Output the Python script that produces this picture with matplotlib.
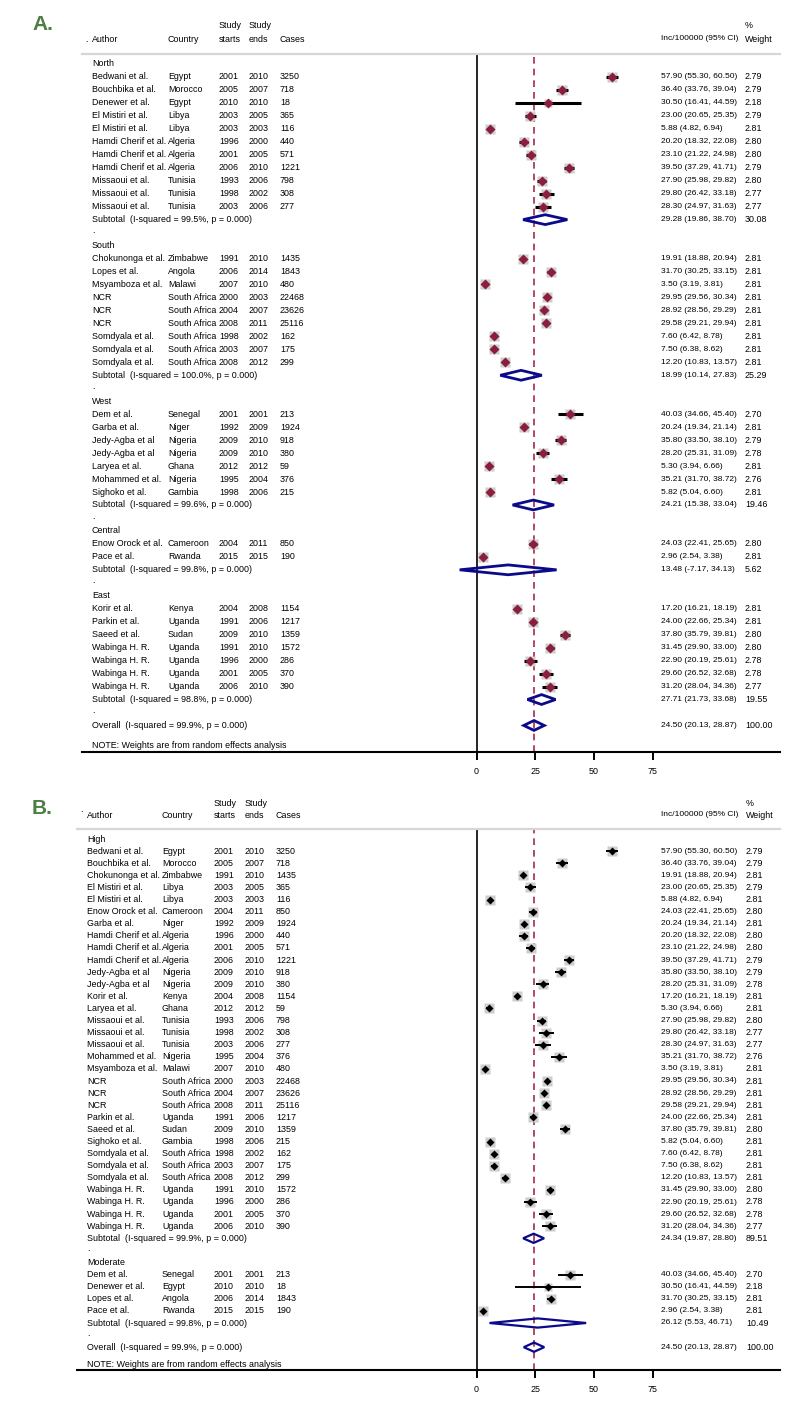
import numpy as np
import matplotlib
matplotlib.use('Agg')
import matplotlib.pyplot as plt
from matplotlib.patches import Polygon
from matplotlib.transforms import blended_transform_factory

plt.rcParams['font.family'] = ['Liberation Sans', 'DejaVu Sans']

# ---- study data (panel A order) ----
authors = ['Bedwani et al.', 'Bouchbika et al.', 'Denewer et al.', 'El Mistiri et al.', 'El Mistiri et al.',
           'Hamdi Cherif et al.', 'Hamdi Cherif et al.', 'Hamdi Cherif et al.', 'Missaoui et al.',
           'Missaoui et al.', 'Missaoui et al.',
           'Chokunonga et al.', 'Lopes et al.', 'Msyamboza et al.', 'NCR', 'NCR', 'NCR',
           'Somdyala et al.', 'Somdyala et al.', 'Somdyala et al.',
           'Dem et al.', 'Garba et al.', 'Jedy-Agba et al', 'Jedy-Agba et al', 'Laryea et al.',
           'Mohammed et al.', 'Sighoko et al.',
           'Enow Orock et al.', 'Pace et al.',
           'Korir et al.', 'Parkin et al.', 'Saeed et al.', 'Wabinga H. R.', 'Wabinga H. R.',
           'Wabinga H. R.', 'Wabinga H. R.']
countries = ['Egypt', 'Morocco', 'Egypt', 'Libya', 'Libya', 'Algeria', 'Algeria', 'Algeria', 'Tunisia',
             'Tunisia', 'Tunisia',
             'Zimbabwe', 'Angola', 'Malawi', 'South Africa', 'South Africa', 'South Africa',
             'South Africa', 'South Africa', 'South Africa',
             'Senegal', 'Niger', 'Nigeria', 'Nigeria', 'Ghana', 'Nigeria', 'Gambia',
             'Cameroon', 'Rwanda',
             'Kenya', 'Uganda', 'Sudan', 'Uganda', 'Uganda', 'Uganda', 'Uganda']
starts = [2001, 2005, 2010, 2003, 2003, 1996, 2001, 2006, 1993, 1998, 2003,
          1991, 2006, 2007, 2000, 2004, 2008, 1998, 2003, 2008,
          2001, 1992, 2009, 2009, 2012, 1995, 1998,
          2004, 2015,
          2004, 1991, 2009, 1991, 1996, 2001, 2006]
ends = [2010, 2007, 2010, 2005, 2003, 2000, 2005, 2010, 2006, 2002, 2006,
        2010, 2014, 2010, 2003, 2007, 2011, 2002, 2007, 2012,
        2001, 2009, 2010, 2010, 2012, 2004, 2006,
        2011, 2015,
        2008, 2006, 2010, 2010, 2000, 2005, 2010]
cases = [3250, 718, 18, 365, 116, 440, 571, 1221, 798, 308, 277,
         1435, 1843, 480, 22468, 23626, 25116, 162, 175, 299,
         213, 1924, 918, 380, 59, 376, 215,
         850, 190,
         1154, 1217, 1359, 1572, 286, 370, 390]
inc = [57.90, 36.40, 30.50, 23.00, 5.88, 20.20, 23.10, 39.50, 27.90, 29.80, 28.30,
       19.91, 31.70, 3.50, 29.95, 28.92, 29.58, 7.60, 7.50, 12.20,
       40.03, 20.24, 35.80, 28.20, 5.30, 35.21, 5.82,
       24.03, 2.96,
       17.20, 24.00, 37.80, 31.45, 22.90, 29.60, 31.20]
ci_lo = [55.30, 33.76, 16.41, 20.65, 4.82, 18.32, 21.22, 37.29, 25.98, 26.42, 24.97,
         18.88, 30.25, 3.19, 29.56, 28.56, 29.21, 6.42, 6.38, 10.83,
         34.66, 19.34, 33.50, 25.31, 3.94, 31.70, 5.04,
         22.41, 2.54,
         16.21, 22.66, 35.79, 29.90, 20.19, 26.52, 28.04]
ci_hi = [60.50, 39.04, 44.59, 25.35, 6.94, 22.08, 24.98, 41.71, 29.82, 33.18, 31.63,
         20.94, 33.15, 3.81, 30.34, 29.29, 29.94, 8.78, 8.62, 13.57,
         45.40, 21.14, 38.10, 31.09, 6.66, 38.72, 6.60,
         25.65, 3.38,
         18.19, 25.34, 39.81, 33.00, 25.61, 32.68, 34.36]
weights = [2.79, 2.79, 2.18, 2.79, 2.81, 2.80, 2.80, 2.79, 2.80, 2.77, 2.77,
           2.81, 2.81, 2.81, 2.81, 2.81, 2.81, 2.81, 2.81, 2.81,
           2.70, 2.81, 2.79, 2.78, 2.81, 2.76, 2.81,
           2.80, 2.81,
           2.81, 2.81, 2.80, 2.80, 2.78, 2.78, 2.77]
region = ['North'] * 11 + ['South'] * 9 + ['West'] * 7 + ['Central'] * 2 + ['East'] * 7
moderate = {'Dem et al.', 'Denewer et al.', 'Lopes et al.', 'Pace et al.'}
level = ['Moderate' if a in moderate else 'High' for a in authors]

# ---- pooled estimates ----
regions = ['North', 'South', 'West', 'Central', 'East']
reg_i2 = ['99.5', '100.0', '99.6', '99.8', '98.8']
reg_est = [29.28, 18.99, 24.21, 13.48, 27.71]
reg_lo = [19.86, 10.14, 15.38, -7.17, 21.73]
reg_hi = [38.70, 27.83, 33.04, 34.13, 33.68]
reg_w = [30.08, 25.29, 19.46, 5.62, 19.55]

levels = ['High', 'Moderate']
lev_i2 = ['99.9', '99.8']
lev_est = [24.34, 26.12]
lev_lo = [19.87, 5.53]
lev_hi = [28.80, 46.71]
lev_w = [89.51, 10.49]

overall = (24.50, 20.13, 28.87, 100.00)

# ---- style ----
W, H = 800, 1408
FS = 6.4       # table text
FS_NUM = 6.0   # estimate column
NAVY = '#0a0a8a'
GREEN = '#4e7d45'
X0_PX, PX_PER_UNIT = 476.5, 2.347

fig = plt.figure(figsize=(8, 14.08), dpi=100)


def fx(px):
    return px / W


def fy(py):
    return 1 - py / H


def build_rows(groups, key, order):
    rows = []
    for g, name in enumerate(groups):
        if g > 0:
            rows.append(('dot', None))
        rows.append(('head', name))
        for k in order:
            if key[k] == name:
                rows.append(('study', k))
        rows.append(('sub', g))
    rows.append(('dot', None))
    rows.append(('overall', None))
    return rows


def draw_panel(letter, rows, stats, lay, diam_color, ci_lw, diam_ms):
    top, bottom, left, right, row0, step = lay['top'], lay['bottom'], lay['left'], lay['right'], lay['row0'], lay['step']
    cols = lay['cols']
    ax = fig.add_axes([fx(left), fy(bottom), (right - left) / W, (bottom - top) / H])
    ax.set_xlim((left - X0_PX) / PX_PER_UNIT, (right - X0_PX) / PX_PER_UNIT)
    ax.set_ylim((bottom - row0) / step, (top - row0) / step)
    for s in ['left', 'right']:
        ax.spines[s].set_visible(False)
    ax.spines['top'].set_color('#d6d6d6')
    ax.spines['top'].set_linewidth(1.6)
    ax.spines['bottom'].set_linewidth(1.5)
    ax.set_yticks([])
    ax.set_xticks([0, 25, 50, 75])
    ax.tick_params(axis='x', direction='out', length=6, width=1.4, pad=5, labelsize=FS)

    ax.axvline(0, color='black', lw=1.2, zorder=1)
    ax.axvline(overall[0], color='#a52a4a', lw=1.2, dashes=(4, 3), zorder=1)

    tr = blended_transform_factory(fig.transFigure, ax.transData)

    def txt(col, y, s):
        size = FS_NUM if col == 'inc' else FS
        ax.text(fx(cols[col]), y, s, transform=tr, va='center', ha='left', fontsize=size, clip_on=False)

    def diamond(y, est, lo, hi):
        h = 0.38
        ax.add_patch(Polygon([[lo, y], [est, y - h], [hi, y], [est, y + h]], closed=True,
                             fill=False, ec=NAVY, lw=lay['sub_lw'], zorder=4))

    names, i2s, ests, los, his, ws = stats
    for i, (kind, v) in enumerate(rows):
        if kind == 'dot':
            txt('author', i - 0.15, '.')
        elif kind == 'head':
            txt('author', i, v)
        elif kind == 'study':
            k = v
            txt('author', i, authors[k])
            txt('country', i, countries[k])
            txt('start', i, str(starts[k]))
            txt('end', i, str(ends[k]))
            txt('cases', i, str(cases[k]))
            txt('inc', i, f'{inc[k]:.2f} ({ci_lo[k]:.2f}, {ci_hi[k]:.2f})')
            txt('weight', i, f'{weights[k]:.2f}')
            ax.plot(inc[k], i, marker='s', ms=6.8 * np.sqrt(weights[k] / 2.81), color='#cdcdcd',
                    mec='none', zorder=2)
            ax.plot([ci_lo[k], ci_hi[k]], [i, i], color='black', lw=ci_lw, solid_capstyle='butt', zorder=3)
            ax.plot(inc[k], i, marker='D', ms=diam_ms, color=diam_color, mec='none', zorder=4)
        elif kind == 'sub':
            g = v
            txt('author', i, f'Subtotal  (I-squared = {i2s[g]}%, p = 0.000)')
            txt('inc', i, f'{ests[g]:.2f} ({los[g]:.2f}, {his[g]:.2f})')
            txt('weight', i, f'{ws[g]:.2f}')
            diamond(i, ests[g], los[g], his[g])
        elif kind == 'overall':
            txt('author', i, 'Overall  (I-squared = 99.9%, p = 0.000)')
            txt('inc', i, f'{overall[0]:.2f} ({overall[1]:.2f}, {overall[2]:.2f})')
            txt('weight', i, f'{overall[3]:.2f}')
            diamond(i, overall[0], overall[1], overall[2])
    txt('author', len(rows) - 1 + lay['note_dy'], 'NOTE: Weights are from random effects analysis')

    # header
    h1, h2 = lay['head_y']
    for col, s in [('author', 'Author'), ('country', 'Country'), ('start', 'starts'), ('end', 'ends'),
                   ('cases', 'Cases'), ('inc', 'Inc/100000 (95% CI)'), ('weight', 'Weight')]:
        fig.text(fx(cols[col]), fy(h2), s, fontsize=FS_NUM if col == 'inc' else FS, va='center', ha='left')
    for col, s in [('start', 'Study'), ('end', 'Study'), ('weight', '%')]:
        fig.text(fx(cols[col]), fy(h1), s, fontsize=FS, va='center', ha='left')
    fig.text(fx(lay['dot_x']), fy(h2 + lay['dot_dy']), '.', fontsize=FS, va='center', ha='left')
    fig.text(fx(32), fy(lay['letter_y']), letter, fontsize=15, fontweight='bold', color=GREEN,
             va='center', ha='left')


order_a = list(range(len(authors)))
order_b = sorted(order_a, key=lambda k: authors[k])

rows_a = build_rows(regions, region, order_a)
rows_b = build_rows(levels, level, order_b)

lay_a = dict(top=54, bottom=752, left=82, right=780, row0=64, step=12.97, sub_lw=2.0, note_dy=1.58,
             head_y=(26, 39), dot_x=85, dot_dy=1, letter_y=24,
             cols=dict(author=92, country=168, start=219, end=249, cases=280, inc=661, weight=745))
lay_b = dict(top=829, bottom=1370, left=77, right=780, row0=839, step=12.1, sub_lw=1.6, note_dy=1.42,
             head_y=(803, 815), dot_x=80, dot_dy=-5, letter_y=808,
             cols=dict(author=87, country=162, start=214, end=245, cases=276, inc=661, weight=746))

draw_panel('A.', rows_a, (regions, reg_i2, reg_est, reg_lo, reg_hi, reg_w), lay_a,
           '#8b1d3d', 2.2, 4.6)
draw_panel('B.', rows_b, (levels, lev_i2, lev_est, lev_lo, lev_hi, lev_w), lay_b,
           'black', 1.4, 4.0)

fig.savefig('out.png', dpi=100)
